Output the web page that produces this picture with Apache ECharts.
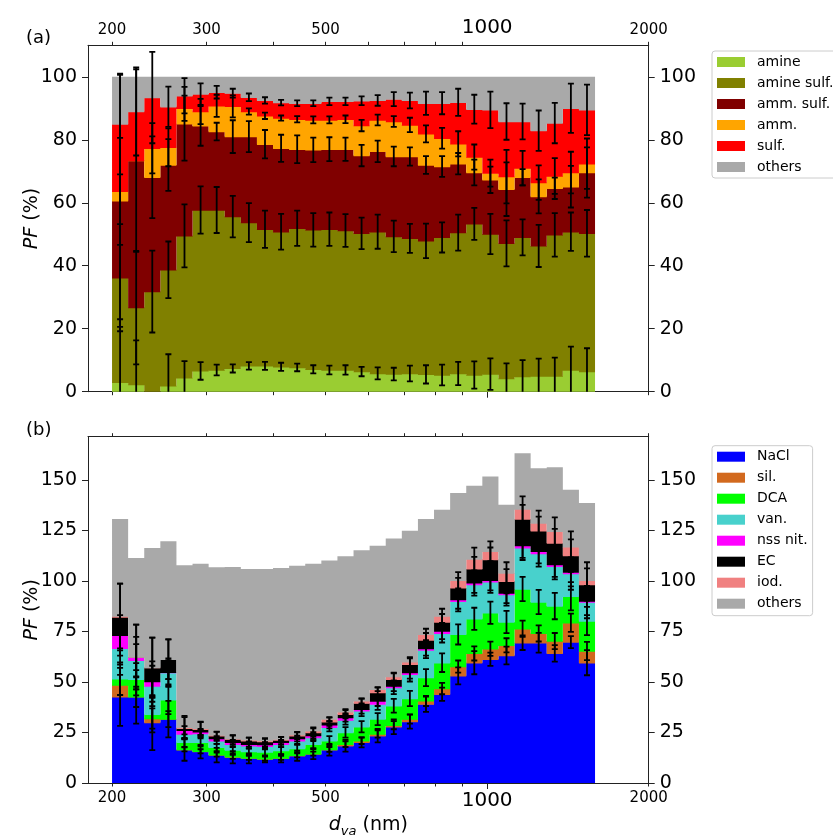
<!DOCTYPE html>
<html>
<head>
<meta charset="utf-8">
<script src="https://cdn.jsdelivr.net/npm/echarts@6/dist/echarts.min.js"></script>
<style>
  html, body { margin: 0; padding: 0; background: #fff; }
  #chart { width: 833px; height: 839px; }
</style>
</head>
<body>
<div id="chart"></div>
<script>
// Size-bin edges, vacuum aerodynamic diameter (nm)
const binEdges = [200, 214.30, 229.63, 246.05, 263.65, 282.51, 302.71, 324.36, 347.56, 372.42,
  399.05, 427.59, 458.17, 490.95, 526.06, 563.68, 603.99, 647.19, 693.48, 743.08,
  796.22, 853.17, 914.19, 979.57, 1049.63, 1124.70, 1205.14, 1291.33, 1383.68, 1482.64, 1588.66];

// Axis ticks
const xTickLabels = [200, 300, 500, 1000, 2000];
const xMinorTicks = [200, 300, 400, 500, 600, 700, 800, 900, 2000];
const xMajorTicks = [1000];
const yTicksA = [0, 20, 40, 60, 80, 100];
const yTicksB = [0, 25, 50, 75, 100, 125, 150];

// Panel (a): particle fractions (%) per bin
const amine      = [3.0, 2.3, 0.0, 1.9, 4.4, 6.6, 6.9, 7.4, 8.2, 8.2, 7.9, 7.7, 7.1, 6.9, 6.9, 6.4, 5.8, 5.6, 5.8, 5.5, 5.3, 5.8, 5.3, 5.6, 4.2, 4.8, 5.0, 5.0, 6.9, 6.4];
const amineSulf  = [33.2, 24.4, 31.8, 36.8, 45.1, 51.1, 50.8, 48.2, 45.5, 43.4, 42.9, 44.2, 44.3, 44.7, 44.3, 43.9, 45.0, 43.7, 42.9, 42.4, 43.7, 44.7, 48.0, 44.5, 42.9, 44.2, 41.3, 44.8, 43.9, 43.9];
const ammSulf    = [24.4, 46.7, 36.3, 33.3, 35.6, 26.7, 24.9, 25.4, 27.3, 27.0, 26.5, 25.1, 25.4, 25.4, 25.8, 24.7, 25.5, 25.4, 26.0, 24.1, 22.5, 21.9, 16.3, 17.2, 17.2, 19.1, 15.7, 14.8, 14.3, 19.3];
const amm        = [3.0, 0.0, 9.2, 5.6, 4.9, 4.6, 8.2, 9.6, 8.0, 9.0, 9.6, 9.5, 9.5, 9.3, 9.5, 9.5, 10.0, 11.1, 10.0, 9.9, 9.0, 6.3, 4.9, 2.1, 4.0, 2.9, 4.4, 3.9, 4.5, 2.8];
const sulf       = [21.4, 15.6, 16.1, 12.9, 4.0, 5.5, 4.3, 4.2, 4.5, 4.9, 4.9, 5.1, 5.3, 5.9, 5.7, 7.9, 6.2, 7.1, 7.8, 9.7, 11.1, 13.2, 15.2, 20.1, 17.5, 14.8, 16.5, 16.8, 20.4, 17.1];
const othersA    = [15.0, 11.0, 6.6, 9.5, 6.0, 5.5, 4.9, 5.2, 6.5, 7.5, 8.2, 8.4, 8.4, 7.8, 7.8, 7.6, 7.5, 7.1, 7.5, 8.4, 8.4, 8.1, 10.3, 10.5, 14.2, 14.2, 17.1, 14.7, 10.0, 10.5];

// Panel (a): uncertainties (±, %) at the top of each layer
const errAmine     = [20, 14, 0, 10, 5.3, 2.8, 1.7, 1.3, 1.2, 1.3, 1.3, 1.2, 1.3, 1.4, 1.5, 1.5, 1.9, 2.0, 2.5, 2.9, 3.3, 3.7, 4.3, 5.0, 4.8, 5.2, 5.5, 5.8, 7.4, 7.4];
const errAmineSulf = [17, 18, 13, 9, 10, 7.5, 7.3, 6.6, 6.2, 5.9, 5.7, 5.6, 5.3, 5.3, 5.2, 5.0, 5.4, 5.0, 4.6, 5.5, 4.8, 5.7, 5.1, 6.4, 7.3, 5.7, 6.7, 6.9, 6.1, 7.4];
const errAmmSulf   = [40, 29, 13, 8.2, 11.7, 6.3, 2.8, 5.2, 4.9, 4.5, 4.3, 4.4, 3.9, 3.8, 3.7, 3.4, 3.4, 3.1, 2.9, 2.8, 3.3, 3.4, 4.1, 4.2, 8.5, 2.6, 5.4, 3.4, 6.6, 8.0];
const errAmm       = [17, 0, 8, 6, 4, 4, 3.5, 3.5, 1.0, 1.0, 0.8, 1.0, 1.1, 1.1, 1.2, 1.8, 1.7, 1.7, 2.3, 2.7, 3.3, 4.0, 4.0, 4.3, 8.5, 5.5, 5.5, 5.7, 6.6, 8.0];
const errSulf      = [16, 14, 14.5, 6.4, 5.6, 3.4, 2.0, 1.4, 1.2, 1.0, 0.9, 0.9, 0.9, 1.2, 1.2, 1.4, 1.7, 2.2, 2.5, 3.7, 3.5, 4.3, 4.6, 5.8, 5.8, 5.7, 6.4, 6.4, 7.8, 8.0];

// Panel (b): particle fractions (%) per bin
const nacl    = [42.6, 42.6, 29.9, 31.6, 16.4, 15.5, 13.8, 12.7, 12.2, 11.8, 12.2, 13.5, 14.3, 16.4, 18.4, 20.1, 23.4, 27.8, 30.4, 39.0, 43.9, 53.0, 59.5, 61.2, 63.1, 69.4, 69.4, 64.1, 69.7, 59.5];
const sil     = [5.9, 0.0, 2.0, 0.0, 0.2, 0.2, 0.2, 0.2, 0.2, 0.2, 0.2, 0.2, 0.2, 0.2, 0.8, 0.8, 0.8, 0.8, 1.2, 1.6, 2.8, 4.6, 4.6, 5.2, 5.0, 6.9, 4.6, 6.1, 9.6, 5.8];
const dca     = [3.1, 8.7, 2.1, 9.5, 3.5, 4.4, 3.6, 3.4, 3.2, 3.3, 3.6, 3.4, 4.7, 4.3, 5.8, 6.9, 7.4, 9.6, 10.2, 11.5, 12.8, 15.9, 17.1, 17.8, 11.5, 19.7, 15.5, 17.3, 13.1, 14.8];
const van     = [15.0, 9.4, 14.0, 13.5, 4.1, 4.4, 3.3, 2.9, 2.8, 2.8, 3.2, 3.8, 3.3, 6.6, 6.2, 7.9, 7.4, 9.0, 12.0, 13.7, 14.5, 16.4, 17.0, 15.3, 13.6, 20.3, 24.0, 19.7, 11.2, 9.4];
const nssNit  = [6.4, 1.6, 2.2, 0.2, 1.9, 0.8, 1.1, 0.9, 0.8, 0.9, 0.9, 1.1, 1.0, 1.3, 1.2, 0.8, 1.5, 0.8, 0.8, 0.7, 1.2, 0.8, 0.8, 0.8, 0.8, 1.1, 1.1, 0.8, 0.7, 0.5];
const ec      = [9.1, 0.0, 6.9, 6.4, 1.0, 1.3, 1.4, 1.6, 1.7, 1.5, 1.2, 1.4, 1.5, 1.5, 1.6, 3.0, 4.2, 3.3, 4.1, 4.2, 4.4, 5.8, 6.9, 10.2, 5.8, 13.2, 10.2, 10.7, 8.2, 8.2];
const iod     = [0.5, 0.0, 0.0, 0.0, 0.4, 0.4, 0.3, 0.3, 0.5, 0.5, 0.4, 0.6, 0.8, 1.3, 1.2, 1.1, 1.7, 1.3, 1.2, 2.8, 3.0, 3.8, 4.9, 4.1, 4.1, 4.9, 3.8, 5.8, 4.3, 2.1];
const othersB = [48.0, 49.0, 59.2, 58.4, 80.2, 81.5, 83.0, 84.9, 84.5, 84.9, 84.7, 83.5, 82.6, 78.4, 77.0, 74.5, 71.0, 68.3, 64.9, 57.1, 52.6, 43.1, 36.2, 37.0, 33.7, 27.6, 27.1, 31.7, 28.2, 38.2];

// Panel (b): uncertainties (±, %) at the top of each layer
const errNacl   = [14.3, 13.2, 13.6, 9.0, 5.4, 3.3, 3.6, 3.0, 2.5, 1.6, 2.0, 2.5, 2.5, 2.9, 2.9, 2.5, 3.3, 3.6, 3.5, 3.8, 3.3, 4.2, 5.7, 3.3, 4.4, 3.6, 4.9, 4.1, 3.0, 6.2];
const errSil    = [5, 5, 5, 4, 1, 1, 1, 1, 1, 1, 1, 1, 1, 1.2, 1.4, 1.6, 1.8, 2, 2.2, 2.5, 2.8, 3, 3.5, 3.5, 3.5, 4, 4, 4, 4.5, 4.5];
const errDca    = [8, 8, 9, 7, 2.2, 2, 1.8, 1.7, 1.6, 1.6, 1.7, 1.8, 2.0, 2.3, 2.6, 2.8, 3.0, 3.4, 3.8, 4.2, 4.6, 5, 5.5, 5.5, 5.5, 6, 6, 6.5, 7, 7];
const errVan    = [8, 8, 10, 7, 2, 1.8, 1.5, 1.5, 1.4, 1.4, 1.5, 1.6, 1.8, 2.0, 2.3, 2.6, 2.8, 3.2, 3.6, 4, 4.5, 5, 5.5, 5.5, 5.5, 6, 6.5, 6.5, 8, 8];
const errNss    = [10, 10, 10, 6, 2, 1.5, 1.2, 1.2, 1.2, 1.2, 1.2, 1.4, 1.6, 1.8, 2.0, 2.2, 2.4, 2.6, 3, 3.5, 4, 4.5, 5, 5, 5, 6, 6, 6, 7, 7];
const errEc     = [16.5, 16, 14.8, 9.8, 5.5, 3.5, 2.0, 1.8, 1.5, 1.5, 1.5, 1.7, 2.0, 2.0, 2.0, 2.2, 2.5, 3.0, 3.0, 3.5, 4.0, 5.0, 6.0, 6.0, 6.0, 7.0, 7.0, 7.0, 8.0, 8.0];
const errIod    = [16, 16, 14.8, 9.8, 5.7, 3.3, 1.6, 1.7, 1.0, 1.0, 1.0, 1.3, 1.7, 1.0, 1.3, 1.2, 1.0, 2.0, 2.4, 2.8, 3.6, 4.0, 5.6, 4.9, 5.3, 6.3, 6.1, 6.9, 7.7, 8.9];

// Layer definitions, bottom to top
const layersA = [
  { name: 'amine',       values: amine,     err: errAmine,     color: '#9ACD32' },
  { name: 'amine sulf.', values: amineSulf, err: errAmineSulf, color: '#808000' },
  { name: 'amm. sulf.',  values: ammSulf,   err: errAmmSulf,   color: '#800000' },
  { name: 'amm.',        values: amm,       err: errAmm,       color: '#FFA500' },
  { name: 'sulf.',       values: sulf,      err: errSulf,      color: '#FF0000' },
  { name: 'others',      values: othersA,   err: null,         color: '#A9A9A9' }
];
const layersB = [
  { name: 'NaCl',     values: nacl,    err: errNacl, color: '#0000FF' },
  { name: 'sil.',     values: sil,     err: errSil,  color: '#D2691E' },
  { name: 'DCA',      values: dca,     err: errDca,  color: '#00FF00' },
  { name: 'van.',     values: van,     err: errVan,  color: '#48D1CC' },
  { name: 'nss nit.', values: nssNit,  err: errNss,  color: '#FF00FF' },
  { name: 'EC',       values: ec,      err: errEc,   color: '#000000' },
  { name: 'iod.',     values: iod,     err: errIod,  color: '#F08080' },
  { name: 'others',   values: othersB, err: null,    color: '#A9A9A9' }
];

const FONT = 'DejaVu Sans';
const AXIS_COLOR = '#222';
const L = Math.log10;
const nBins = binEdges.length - 1;

// cumulative [base, top] of every layer in every bin
function stackLayers(layers) {
  const cum = new Array(nBins).fill(0);
  return layers.map(layer => layer.values.map((v, i) => {
    const base = cum[i];
    cum[i] += v;
    return [base, cum[i]];
  }));
}

// One stacked layer: the bins of a layer are joined into a single stepped
// polygon so that neighbouring bins share no anti-aliased edge.
function barSeries(layer, stacked, xAxisIndex, yAxisIndex) {
  const data = stacked.map((s, i) => [L(binEdges[i]), L(binEdges[i + 1]), s[0], s[1]]);
  return {
    type: 'custom',
    name: layer.name,
    xAxisIndex, yAxisIndex,
    itemStyle: { color: layer.color },
    encode: { x: [0, 1], y: [2, 3] },
    data,
    renderItem(params, api) {
      if (params.dataIndex !== 0) return null;
      const topPts = [];
      const basePts = [];
      data.forEach(d => {
        const [x0, x1, base, top] = d;
        const a = api.coord([x0, top]);
        const b = api.coord([x1, top]);
        topPts.push(a, b);
        const c = api.coord([x0, base]);
        const e = api.coord([x1, base]);
        const shift = base > 0 ? 0.7 : 0;   // tuck under the layer below
        basePts.push([c[0], c[1] + shift], [e[0], e[1] + shift]);
      });
      const points = topPts.concat(basePts.reverse());
      return {
        type: 'polygon',
        shape: { points },
        style: { fill: layer.color, stroke: null, lineWidth: 0 }
      };
    }
  };
}

function errorSeries(layers, stacked, xAxisIndex, yAxisIndex) {
  const data = [];
  layers.forEach((layer, k) => {
    if (!layer.err) return;
    layer.err.forEach((e, i) => {
      if (e > 0) data.push([(L(binEdges[i]) + L(binEdges[i + 1])) / 2, stacked[k][i][1], e]);
    });
  });
  return {
    type: 'custom',
    xAxisIndex, yAxisIndex,
    clip: true,
    silent: true,
    z: 5,
    encode: { x: 0, y: 1 },
    data,
    renderItem(params, api) {
      const x = api.value(0), y = api.value(1), e = api.value(2);
      const hi = api.coord([x, y + e]);
      const lo = api.coord([x, y - e]);
      const cap = 3;
      const st = { stroke: '#000', lineWidth: 1.8 };
      return {
        type: 'group',
        children: [
          { type: 'line', shape: { x1: hi[0], y1: hi[1], x2: lo[0], y2: lo[1] }, style: st },
          { type: 'line', shape: { x1: hi[0] - cap, y1: hi[1], x2: hi[0] + cap, y2: hi[1] }, style: st },
          { type: 'line', shape: { x1: lo[0] - cap, y1: lo[1], x2: lo[0] + cap, y2: lo[1] }, style: st }
        ]
      };
    }
  };
}

const xMin = L(180.4), xMax = L(2000);

function xAxes(gridIndex, labelSide, name) {
  const axes = [];
  ['top', 'bottom'].forEach(pos => {
    const withLabels = pos === labelSide;
    axes.push({
      type: 'value', gridIndex, position: pos, min: xMin, max: xMax,
      axisLine: { show: true, onZero: false, lineStyle: { color: AXIS_COLOR, width: 1 } },
      axisTick: { show: true, customValues: xMinorTicks.map(L), length: 3.5, lineStyle: { color: AXIS_COLOR, width: 1 } },
      axisLabel: {
        show: withLabels, customValues: xTickLabels.map(L), margin: 8,
        formatter: v => {
          const n = Math.round(Math.pow(10, v));
          return n === 1000 ? '{b|' + n + '}' : '{s|' + n + '}';
        },
        rich: {
          s: { fontSize: 15, fontFamily: FONT, color: '#000' },
          b: { fontSize: 20, fontFamily: FONT, color: '#000' }
        }
      },
      splitLine: { show: false },
      name: withLabels && name ? name : '',
      nameLocation: 'middle',
      nameGap: 30,
      nameMoveOverlap: false,
      nameTextStyle: {
        fontSize: 19, fontFamily: FONT, color: '#000',
        rich: {
          i: { fontSize: 19, fontStyle: 'italic', fontFamily: FONT, color: '#000' },
          s: { fontSize: 13, fontStyle: 'italic', fontFamily: FONT, color: '#000', padding: [12, 0, 0, 0] },
          n: { fontSize: 19, fontFamily: FONT, color: '#000' }
        }
      }
    });
    axes.push({
      type: 'value', gridIndex, position: pos, min: xMin, max: xMax,
      axisLine: { show: false },
      axisTick: { show: true, customValues: xMajorTicks.map(L), length: 6, lineStyle: { color: AXIS_COLOR, width: 1 } },
      axisLabel: { show: false },
      splitLine: { show: false }
    });
  });
  return axes;
}

function yAxes(gridIndex, max, ticks) {
  return ['left', 'right'].map(pos => ({
    type: 'value', gridIndex, position: pos, min: 0, max,
    axisLine: { show: true, onZero: false, lineStyle: { color: AXIS_COLOR, width: 1 } },
    axisTick: { show: true, customValues: ticks, length: 6, lineStyle: { color: AXIS_COLOR, width: 1 } },
    axisLabel: { customValues: ticks, fontSize: 19, fontFamily: FONT, color: '#000', margin: 11 },
    splitLine: { show: false },
    name: pos === 'left' ? '{i|PF} (%)' : '',
    nameLocation: 'middle',
    nameRotate: 90,
    nameGap: 46,
    nameMoveOverlap: false,
    nameTextStyle: {
      fontSize: 19, fontFamily: FONT, color: '#000',
      rich: { i: { fontSize: 19, fontStyle: 'italic', fontFamily: FONT, color: '#000' } }
    }
  }));
}

const stackedA = stackLayers(layersA);
const stackedB = stackLayers(layersB);

const series = [];
layersA.forEach((layer, k) => series.push(barSeries(layer, stackedA[k], 0, 0)));
series.push(errorSeries(layersA, stackedA, 0, 0));
layersB.forEach((layer, k) => series.push(barSeries(layer, stackedB[k], 4, 2)));
series.push(errorSeries(layersB, stackedB, 4, 2));

function legend(layers, top, padding) {
  return {
    data: layers.map(l => l.name),
    orient: 'vertical',
    left: 712, top,
    padding,
    icon: 'rect',
    itemWidth: 28, itemHeight: 10, itemGap: 7,
    selectedMode: false,
    borderColor: '#cccccc', borderWidth: 1, borderRadius: 3,
    backgroundColor: 'rgba(255,255,255,0.8)',
    textStyle: { fontSize: 14, fontFamily: FONT, color: '#000', padding: [0, 0, 0, 7] }
  };
}

const chart = echarts.init(document.getElementById('chart'), null, { renderer: 'canvas' });
chart.setOption({
  animation: false,
  backgroundColor: '#fff',
  textStyle: { fontFamily: FONT },
  grid: [
    { left: 88, top: 45.3, width: 560.7, height: 346.4 },
    { left: 88, top: 436.7, width: 560.7, height: 347.3 }
  ],
  xAxis: [...xAxes(0, 'top', null), ...xAxes(1, 'bottom', '{i|d}{s|va}{n| (nm)}')],
  yAxis: [...yAxes(0, 110, yTicksA), ...yAxes(1, 171.3, yTicksB)],
  legend: [legend(layersA, 51, [4, 5, 4, 5]), legend(layersB, 445.7, [4, 5, 5, 5])],
  graphic: [
    { type: 'text', left: 26, top: 29, style: { text: '(a)', fontSize: 18, fontFamily: FONT, fill: '#000' } },
    { type: 'text', left: 26, top: 421, style: { text: '(b)', fontSize: 18, fontFamily: FONT, fill: '#000' } }
  ],
  series
});
</script>
</body>
</html>
